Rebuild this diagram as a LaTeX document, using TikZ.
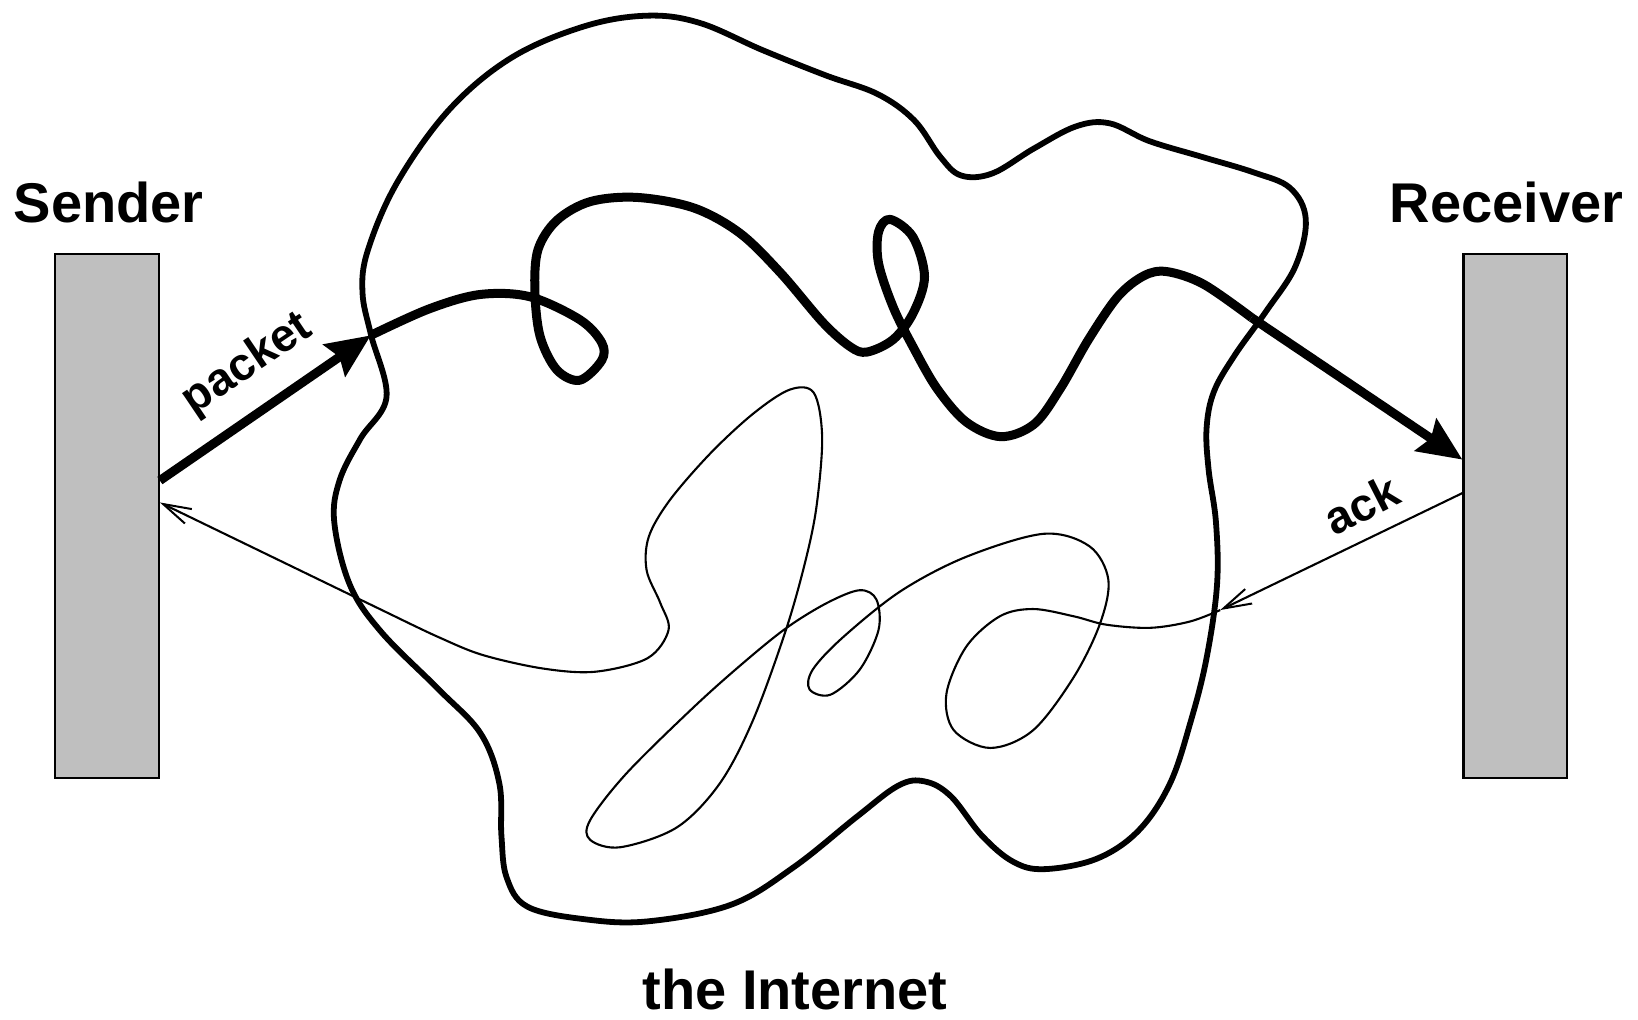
\documentclass[tikz,border=0pt]{standalone}
\usepackage{fontspec}
\setmainfont{Liberation Sans}
\usetikzlibrary{arrows.meta,calc}
\definecolor{hostgray}{RGB}{191,191,191}
\begin{document}
\begin{tikzpicture}[x=0.5223pt,y=-0.5223pt,
  host/.style={draw=black,line width=1.1pt,fill=hostgray,inner sep=0pt,
    minimum width=51.7pt,minimum height=262.2pt},
  title/.style={font=\fontsize{28}{30}\selectfont\bfseries,anchor=base,inner sep=0pt},
  arrowlabel/.style={font=\fontsize{23}{25}\selectfont\bfseries,inner sep=0pt},
  cloudline/.style={line width=2.9pt,line join=round},
  thickline/.style={line width=4.5pt,line join=round},
  thinline/.style={line width=1.05pt,line join=round},
  bighead/.style={-{Stealth[length=22pt,width=19pt,inset=3pt]}},
  barbhead/.style={-{Straight Barb[length=14pt,width=8pt,line width=1pt]}}]
\useasboundingbox (0,0) rectangle (1568,976);

% hosts
\node[host] (S) at (102.5,494) {};
\node[host] (R) at (1450.5,494) {};
\node[title] (Slab) at (104,213) {Sender};
\node[title] (Rlab) at (1442,213) {Receiver};
\node[title] (Ilab) at (761,966) {the Internet};

% the Internet cloud
\draw[cloudline] plot[smooth cycle,tension=0.6] coordinates {
 (347,280) (355,320) (370,380) (345,420) (325,460) (320,500) (335,560)
 (365,605) (420,660) (460,702) (478,750) (480,800) (485,840) (505,868)
 (560,880) (620,882) (700,866) (760,830) (820,782) (860,752) (885,748)
 (910,762) (940,800) (970,825) (1000,832) (1050,822) (1090,795) (1120,750)
 (1140,690) (1155,630) (1165,560) (1164,500) (1157,450) (1155,410) (1162,375)
 (1182,340) (1212,298) (1240,255) (1250,210) (1235,180) (1200,165) (1150,150)
 (1100,135) (1062,118) (1030,121) (990,142) (950,166) (920,168) (900,150)
 (875,115) (840,90) (790,72) (730,48) (670,22) (620,15) (560,25) (490,55)
 (430,105) (380,175) (352,240)};

% packet path
\coordinate (p1) at (355,321);
\coordinate (p2) at (1198,304);
\draw[thickline,bighead] ($(S.east)+(0,-34)$) -- (p1);
\draw[thickline] plot[smooth,tension=0.55] coordinates {
 (p1) (410,296) (459,282) (507,284) (555,306) (576,328) (576,345) (555,364)
 (533,354) (517,322) (512,278) (515,239) (533,211) (565,193) (610,189)
 (664,199) (708,223) (747,261) (788,309) (814,332) (830,337) (855,325)
 (874,300) (885,265) (874,227) (852,210) (841,222) (841,252) (855,294)
 (874,332) (897,372) (925,404) (958,418) (990,406) (1015,372) (1042,325)
 (1070,284) (1095,264) (1117,260) (1152,272) (p2)};
\draw[thickline,bighead] (p2) -- ($(R.west)+(0,-54)$);
\node[arrowlabel,rotate=34] (pl) at (237,349) {packet};

% ack path
\coordinate (a1) at (1168,584);
\draw[thinline,barbhead] ($(R.west)+(0,-22)$) -- (a1);
\node[arrowlabel,rotate=27] (al) at (1303,483) {ack};
\draw[thinline,barbhead] plot[smooth,tension=0.55] coordinates {
 (a1) (1139,595) (1101,601) (1059,598) (1028,590) (989,583) (957,590)
 (925,619) (906,664) (913,699) (948,716) (989,699) (1028,648) (1053,597)
 (1061,555) (1043,523) (999,511) (925,533) (862,566) (807,610) (778,641)
 (775,660) (795,665) (823,641) (841,603) (839,574) (823,565) (792,577)
 (753,601) (711,635) (664,677) (600,740) (565,785) (565,804) (594,811)
 (648,792) (689,750) (721,689) (753,601) (772,533) (782,482) (787,418)
 (779,376) (756,373) (721,396) (680,434) (641,479) (621,514) (619,546)
 (632,577) (640,603) (620,630) (570,643) (520,640) (462,627) (420,610)
 (380,591)} -- ($(S.east)+(0,-13)$);
\end{tikzpicture}
\end{document}
